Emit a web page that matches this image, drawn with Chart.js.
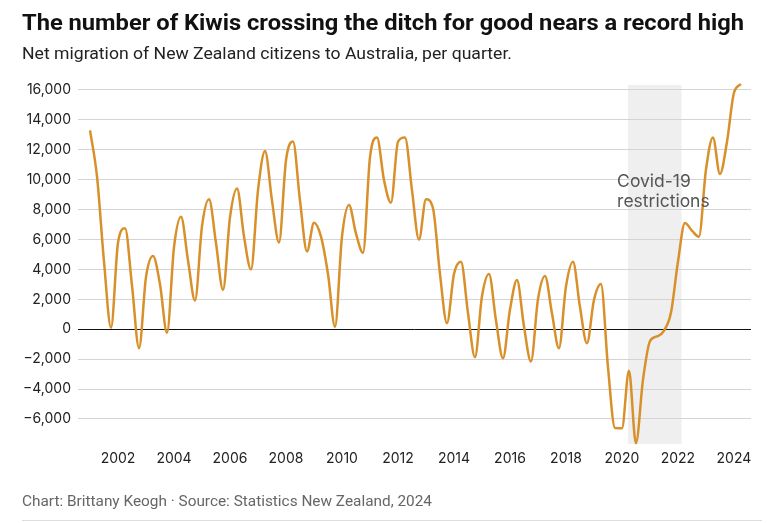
<!DOCTYPE html>
<html>
<head>
<meta charset="utf-8">
<script src="https://cdn.jsdelivr.net/npm/chart.js@4"></script>
<style>
  html,body{margin:0;padding:0;background:#fff;}
  #wrap{position:relative;width:775px;height:523px;overflow:hidden;background:#fff;}
  #chartBox{position:absolute;left:0;top:0;width:775px;height:523px;}
  .txt{position:absolute;white-space:nowrap;transform-origin:left top;}
  #title{left:22px;top:9px;font-family:Roboto,"Liberation Sans",sans-serif;font-weight:700;font-size:22px;line-height:28px;color:#111;}
  #subtitle{left:22px;top:43px;font-family:Roboto,"Liberation Sans",sans-serif;font-size:16.5px;line-height:22px;color:#222;}
  #footer{left:22px;top:491px;font-family:Roboto,"Liberation Sans",sans-serif;font-size:14px;line-height:20px;color:#666;}
  #rule{position:absolute;left:22px;top:520px;width:740px;height:1px;background:#ddd;}
</style>
</head>
<body>
<div id="wrap">
  <div id="chartBox"><canvas id="c"></canvas></div>
  <div class="txt" id="title" data-w="722">The number of Kiwis crossing the ditch for good nears a record high</div>
  <div class="txt" id="subtitle" data-w="490">Net migration of New Zealand citizens to Australia, per quarter.</div>
  <div class="txt" id="footer" data-w="410">Chart: Brittany Keogh · Source: Statistics New Zealand, 2024</div>
  <div id="rule"></div>
</div>
<script>
// ---- data (quarterly, starting 2001 Q1) ----
const startYear = 2001;
const netMigration = [
  13300, 10200, 4500, 100,      // 2001
  5800, 6750, 2900, -1270,      // 2002
  3500, 4900, 3000, -230,       // 2003
  5500, 7530, 4600, 1920,       // 2004
  6900, 8690, 5750, 2630,       // 2005
  7500, 9420, 6200, 4000,       // 2006
  9300, 11920, 8600, 5800,      // 2007
  11300, 12550, 8600, 5200,     // 2008
  7130, 6200, 3700, 170,        // 2009
  6200, 8310, 6400, 5120,       // 2010
  11500, 12830, 9980, 8460,     // 2011
  12540, 12830, 9300, 6000,     // 2012
  8690, 8090, 3700, 400,        // 2013
  3700, 4520, 1100, -1870,      // 2014
  2200, 3700, 600, -1940,       // 2015
  1300, 3300, 200, -2150,       // 2016
  2000, 3560, 1070, -1270,      // 2017
  2850, 4520, 1500, -940,       // 2018
  1960, 3030, -2500, -6600,     // 2019
  -6620, -2770, -7620, -3400,   // 2020
  -800, -480, -100, 1100,       // 2021
  4500, 7100, 6600, 6190,       // 2022
  10650, 12830, 10380, 12500,   // 2023
  15800, 16400                  // 2024
];
const yearTicks = [2002,2004,2006,2008,2010,2012,2014,2016,2018,2020,2022,2024];
const valueTicks = [-6000,-4000,-2000,0,2000,4000,6000,8000,10000,12000,14000,16000];
const covidPeriod = [2020.22, 2022.13];
const covidTopValue = 16330;
const covidLabel = ["Covid-19", "restrictions"];

const points = netMigration.map((v, i) => ({x: startYear + i / 4, y: v}));

function fmt(v){
  const s = Math.abs(v).toLocaleString('en-US');
  return v < 0 ? '\u2212' + s : s;
}

const covidPlugin = {
  id: 'covid',
  beforeDraw(chart){
    const {ctx, chartArea, scales:{x, y}} = chart;
    const x0 = x.getPixelForValue(covidPeriod[0]);
    const x1 = x.getPixelForValue(covidPeriod[1]);
    const top = y.getPixelForValue(covidTopValue);
    ctx.save();
    ctx.fillStyle = '#efefef';
    ctx.fillRect(x0, top, x1 - x0, chartArea.bottom - top);
    ctx.restore();
  },
  afterDatasetsDraw(chart){
    const {ctx, scales:{x, y}} = chart;
    const left = x.getPixelForValue(covidPeriod[0]) - 11;
    const top = y.getPixelForValue(9850);
    ctx.save();
    ctx.font = '17.5px Inter, Roboto, sans-serif';
    ctx.fillStyle = '#555';
    ctx.textBaseline = 'middle';
    ctx.textAlign = 'left';
    covidLabel.forEach((t, i) => ctx.fillText(t, left, top + i * 19.5));
    ctx.restore();
  }
};

new Chart(document.getElementById('c'), {
  type: 'line',
  data: {
    datasets: [{
      data: points,
      borderColor: '#d8902a',
      borderWidth: 2.5,
      pointRadius: 0,
      fill: false,
      clip: false,
      cubicInterpolationMode: 'monotone'
    }]
  },
  options: {
    responsive: true,
    maintainAspectRatio: false,
    animation: false,
    layout: {padding: {top: 86, right: 24, left: 0, bottom: 0}},
    plugins: {legend: {display: false}, tooltip: {enabled: false}},
    scales: {
      x: {
        type: 'linear',
        min: 2000.57,
        max: 2024.61,
        grid: {display: false, drawTicks: false},
        border: {display: false},
        afterBuildTicks(s){ s.ticks = yearTicks.map(v => ({value: v})); },
        afterFit(s){ s.height = 79; },
        ticks: {
          padding: 6,
          maxRotation: 0,
          autoSkip: false,
          color: '#222',
          font: {family: 'Inter, Roboto, sans-serif', size: 14},
          callback: v => String(v)
        }
      },
      y: {
        type: 'linear',
        min: -7672,
        max: 16267,
        grid: {
          drawTicks: false,
          color: c => c.tick && c.tick.value === 0 ? '#111' : '#d4d4d4',
          lineWidth: 1
        },
        border: {display: false},
        afterBuildTicks(s){ s.ticks = valueTicks.map(v => ({value: v})); },
        afterFit(s){ s.width = 78; },
        ticks: {
          padding: 7,
          autoSkip: false,
          color: '#222',
          font: {family: 'Inter, Roboto, sans-serif', size: 14},
          callback: v => fmt(v)
        }
      }
    }
  },
  plugins: [covidPlugin]
});

function fitText(){
  document.querySelectorAll('.txt').forEach(el => {
    el.style.transform = 'none';
    const w = el.getBoundingClientRect().width;
    const target = +el.dataset.w;
    if (w > 0) el.style.transform = 'scaleX(' + (target / w) + ')';
  });
}
fitText();
if (document.fonts && document.fonts.ready) document.fonts.ready.then(fitText);
</script>
</body>
</html>
